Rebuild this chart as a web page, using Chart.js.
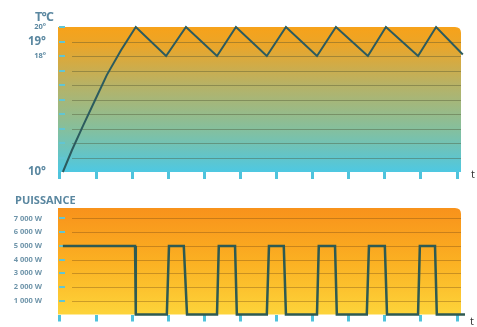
<!DOCTYPE html>
<html>
<head>
<meta charset="utf-8">
<script src="https://cdn.jsdelivr.net/npm/chart.js@4.4.1/dist/chart.umd.min.js"></script>
<style>
  html, body { margin: 0; padding: 0; background: #ffffff; }
  #wrap { position: relative; width: 477px; height: 327px; overflow: hidden; font-family: "Open Sans", sans-serif; }
  .box { position: absolute; left: 0; width: 477px; }
  .lbl { position: absolute; white-space: nowrap; }
</style>
</head>
<body>
<div id="wrap">
  <div class="box" style="top:0;height:185px;"><canvas id="tempChart"></canvas></div>
  <div class="box" style="top:190px;height:137px;"><canvas id="powerChart"></canvas></div>
  <div class="lbl" style="left:35px;top:8px;font-size:12.5px;font-weight:700;color:#5a87a0;letter-spacing:-0.8px;">T°C</div>
  <div class="lbl" style="left:15px;top:192px;font-size:11px;font-weight:700;color:#5a87a0;">PUISSANCE</div>
  <div class="lbl" style="left:471px;top:166px;font-size:11px;color:#333;">t</div>
  <div class="lbl" style="left:470px;top:313px;font-size:11px;color:#333;">t</div>
</div>
<script>
// ---- data ----
const timeTicks = [0, 1, 2, 3, 4, 5, 6, 7, 8, 9, 10, 11];

const tempTimes  = [0.08, 0.33, 0.64, 0.97, 1.30, 1.69, 2.1, 2.94, 3.49, 4.35, 4.875, 5.73, 6.26, 7.12, 7.645, 8.53, 9.03, 9.92, 10.42, 11.16];
const tempValues = [10, 11.5, 13.2, 14.95, 16.7, 18.4, 20, 18, 20, 18, 20, 18, 20, 18, 20, 18, 20, 18, 20, 18.1];
const tempTicks  = [10, 11, 12, 13, 14, 15, 16, 17, 18, 19, 20];
const tempTickLabels = ['10°', '', '', '', '', '', '', '', '18°', '19°', '20°'];

const powerTimes  = [0.08, 2.08, 2.1, 2.96, 3.02, 3.43, 3.52, 4.35, 4.40, 4.85, 4.90, 5.73, 5.79, 6.20, 6.26, 7.12, 7.17, 7.62, 7.67, 8.50, 8.56, 9.00, 9.06, 9.92, 9.97, 10.39, 10.44, 11.22];
const powerValues = [5000, 5000, 0, 0, 5000, 5000, 0, 0, 5000, 5000, 0, 0, 5000, 5000, 0, 0, 5000, 5000, 0, 0, 5000, 5000, 0, 0, 5000, 5000, 0, 0];
const powerTicks  = [0, 1000, 2000, 3000, 4000, 5000, 6000, 7000];
const powerTickLabels = ['', '1 000 W', '2 000 W', '3 000 W', '4 000 W', '5 000 W', '6 000 W', '7 000 W'];

// ---- panel plugin ----
const panelPlugin = {
  id: 'panel',
  beforeDraw(chart, args, opts) {
    const { ctx, chartArea: a } = chart;
    const ys = chart.scales.y;
    ctx.save();
    const g = ctx.createLinearGradient(0, a.top, 0, a.bottom);
    opts.stops.forEach(s => g.addColorStop(s[0], s[1]));
    const r = 6;
    ctx.beginPath();
    ctx.moveTo(a.left, a.top);
    ctx.lineTo(a.right - r, a.top);
    ctx.quadraticCurveTo(a.right, a.top, a.right, a.top + r);
    ctx.lineTo(a.right, a.bottom);
    ctx.lineTo(a.left, a.bottom);
    ctx.closePath();
    ctx.fillStyle = g;
    ctx.fill();
    // grid lines
    ctx.lineWidth = 1;
    ctx.strokeStyle = opts.gridColor;
    ys.ticks.forEach(t => {
      if (t.value <= ys.min || t.value >= ys.max) return;
      const y = Math.round(ys.getPixelForValue(t.value)) + 0.5;
      ctx.beginPath();
      ctx.moveTo(a.left + 14, y);
      ctx.lineTo(a.right, y);
      ctx.stroke();
    });
    // small cyan marks on left edge
    ctx.lineWidth = 2;
    ctx.strokeStyle = '#62c5d2';
    ys.ticks.forEach(t => {
      if (t.value <= ys.min) return;
      const y = Math.round(ys.getPixelForValue(t.value));
      ctx.beginPath();
      ctx.moveTo(a.left + 1, y);
      ctx.lineTo(a.left + 7, y);
      ctx.stroke();
    });
    ctx.restore();
  }
};

function xScale(height) {
  return {
    type: 'linear',
    min: -0.055,
    max: 11.11,
    afterBuildTicks: s => { s.ticks = timeTicks.map(v => ({ value: v })); },
    afterFit: s => { s.height = height; },
    ticks: { display: false },
    border: { display: false },
    grid: {
      drawOnChartArea: false,
      drawTicks: true,
      tickLength: 7,
      tickWidth: 3,
      tickColor: '#4fc3dc'
    }
  };
}

const fontFor = (labels, big) => (ctx) => {
  const lbl = labels[ctx.index] || '';
  const isBig = big.includes(lbl);
  return { family: 'Open Sans', weight: 'bold', size: isBig ? 11.5 : 7.5 };
};

new Chart(document.getElementById('tempChart'), {
  type: 'line',
  data: {
    datasets: [{
      data: tempTimes.map((t, i) => ({ x: t, y: tempValues[i] })),
      borderColor: '#2c5b5e',
      borderWidth: 2,
      pointRadius: 0,
      tension: 0,
      fill: false,
      clip: false
    }]
  },
  options: {
    responsive: true,
    maintainAspectRatio: false,
    animation: false,
    devicePixelRatio: 1,
    layout: { padding: { left: 0, right: 16, top: 27, bottom: 0 } },
    plugins: {
      legend: { display: false },
      tooltip: { enabled: false },
      panel: {
        stops: [[0, '#f7a21a'], [0.12, '#eba528'], [0.4, '#b7b266'], [0.7, '#86bf9c'], [1, '#4ec8e2']],
        gridColor: 'rgba(70,75,45,0.38)'
      }
    },
    scales: {
      x: xScale(13),
      y: {
        type: 'linear',
        min: 10,
        max: 20,
        afterBuildTicks: s => { s.ticks = tempTicks.map(v => ({ value: v })); },
        afterFit: s => { s.width = 58; },
        border: { display: false },
        grid: { display: false },
        ticks: {
          autoSkip: false,
          padding: 4,
          color: '#5a87a0',
          font: fontFor(tempTickLabels, ['19°', '10°']),
          callback: (v, i) => tempTickLabels[i]
        }
      }
    }
  },
  plugins: [panelPlugin]
});

new Chart(document.getElementById('powerChart'), {
  type: 'line',
  data: {
    datasets: [{
      data: powerTimes.map((t, i) => ({ x: t, y: powerValues[i] })),
      borderColor: '#2e5a52',
      borderWidth: 2.5,
      pointRadius: 0,
      tension: 0,
      fill: false,
      clip: false
    }]
  },
  options: {
    responsive: true,
    maintainAspectRatio: false,
    animation: false,
    devicePixelRatio: 1,
    layout: { padding: { left: 0, right: 16, top: 18, bottom: 0 } },
    plugins: {
      legend: { display: false },
      tooltip: { enabled: false },
      panel: {
        stops: [[0, '#f8921b'], [0.5, '#fbb022'], [1, '#fdd43a']],
        gridColor: 'rgba(110,70,20,0.35)'
      }
    },
    scales: {
      x: xScale(8),
      y: {
        type: 'linear',
        min: 0,
        max: 7760,
        afterBuildTicks: s => { s.ticks = powerTicks.map(v => ({ value: v })); },
        afterFit: s => { s.width = 58; },
        border: { display: false },
        grid: { display: false },
        ticks: {
          autoSkip: false,
          padding: 8,
          color: '#6f95aa',
          font: { family: 'Open Sans', weight: 'bold', size: 7.5 },
          callback: (v, i) => powerTickLabels[i]
        }
      }
    }
  },
  plugins: [panelPlugin]
});
</script>
</body>
</html>
